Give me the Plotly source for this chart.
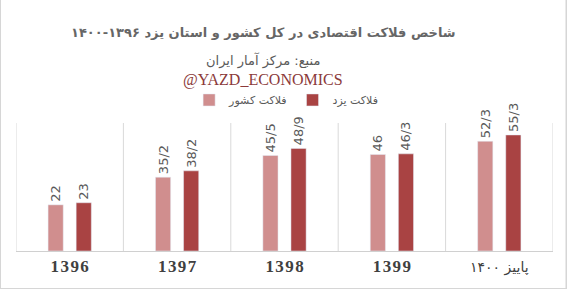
import plotly.graph_objects as go

categories = ["1396", "1397", "1398", "1399", "پاییز ۱۴۰۰"]
country_vals = [22, 35.2, 45.5, 46, 52.3]
yazd_vals = [23, 38.2, 48.9, 46.3, 55.3]
country_labels = ["22", "35/2", "45/5", "46", "52/3"]
yazd_labels = ["23", "38/2", "48/9", "46/3", "55/3"]

LIGHT = "#D08E8E"
DARK = "#A94343"

fig = go.Figure()
fig.add_trace(go.Bar(
    x=categories, y=country_vals, name="فلاکت کشور",
    marker_color=LIGHT, text=country_labels, textposition="outside",
    textangle=-90, textfont=dict(family="DejaVu Sans", size=13, color="#595959"),
    cliponaxis=False,
))
fig.add_trace(go.Bar(
    x=categories, y=yazd_vals, name="فلاکت یزد",
    marker_color=DARK, text=yazd_labels, textposition="outside",
    textangle=-90, textfont=dict(family="DejaVu Sans", size=13, color="#595959"),
    cliponaxis=False,
))

# category separators
for i in range(len(categories) + 1):
    fig.add_shape(type="line", xref="x", yref="paper",
                  x0=i - 0.5, x1=i - 0.5, y0=0, y1=1,
                  line=dict(color="#D9D9D9", width=1), layer="below")

# outer border
fig.add_shape(type="rect", xref="paper", yref="paper",
              x0=-16/537, x1=(567-16)/537 - 0.5/537, y0=-38/128, y1=(289-38)/128 + 123/128 - 0.5/128,
              line=dict(color="#D6D6D6", width=2))

HS = "\u200a"
ticktext = ["<b>" + HS.join(c) + "</b>" for c in categories[:4]] + [
    "<span style='font-family:DejaVu Sans;font-size:14px'>" + categories[4] + "</span>"]

fig.update_layout(
    width=567, height=289,
    margin=dict(l=16, r=14, t=123, b=38),
    paper_bgcolor="white", plot_bgcolor="white",
    barmode="group", bargap=0.477, bargroupgap=0.46,
    uniformtext=dict(minsize=13, mode="show"),
    showlegend=True,
    legend=dict(orientation="h", x=0.503, y=1.18, xanchor="center", yanchor="middle",
                font=dict(family="DejaVu Sans", size=11, color="#595959"),
                itemwidth=30, traceorder="normal"),
    xaxis=dict(range=[-0.5, 4.5], showgrid=False, showline=True,
               linecolor="#D0D0D0", linewidth=1, ticks="",
               tickmode="array", tickvals=categories, ticktext=ticktext,
               tickfont=dict(family="Liberation Serif", size=17, color="#404040")),
    yaxis=dict(range=[0, 61], visible=False),
    annotations=[
        dict(text="<b>شاخص فلاکت اقتصادی در کل کشور و استان یزد ۱۳۹۶-۱۴۰۰</b>",
             xref="paper", yref="paper", x=(263-16)/537, y=(251-23)/128,
             showarrow=False, font=dict(family="DejaVu Sans", size=13, color="#666666")),
        dict(text="منبع: مرکز آمار ایران",
             xref="paper", yref="paper", x=(263-16)/537, y=(251-50)/128,
             showarrow=False, font=dict(family="DejaVu Sans", size=13, color="#595959")),
        dict(text="@YAZD_ECONOMICS",
             xref="paper", yref="paper", x=(263-16)/537, y=(251-69)/128,
             showarrow=False, font=dict(family="Liberation Serif", size=16, color="#8B3A3A")),
    ],
)

fig.write_html("out.html")
